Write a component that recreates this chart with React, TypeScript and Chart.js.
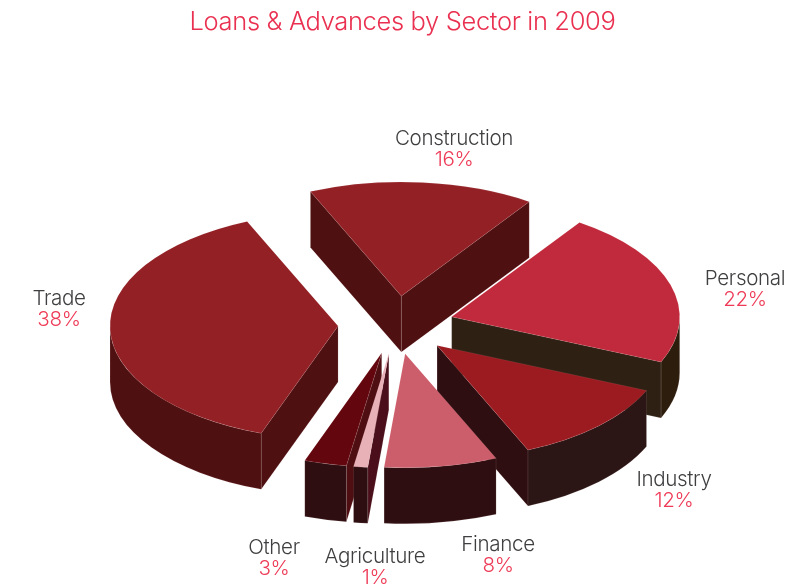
import { useEffect, useRef } from "react";
import { Chart, PieController, registerables } from "chart.js";

const sectors = ["Construction", "Personal", "Industry", "Finance", "Agriculture", "Other", "Trade"];
const shares = [16, 22, 12, 8, 1, 3, 38];
const topColors = ["#922025", "#c12a3c", "#9c1b20", "#cc5d6b", "#e8b0b7", "#64060e", "#922025"];
const startWallColors = ["#4f1011", "#2e2114", "#2e0e10", "#2e0e10", "#4a0f1a", "#4f0f12", "#4f1011"];
const endWallColors = ["#4f1011", "#2e2114", "#2e0e10", "#2e0e10", "#2e0e10", "#2e0e10", "#4f1011"];
const rimColors = ["#4f1011", "#2d1d0c", "#2c1615", "#2e0e10", "#2e0e10", "#2e0e10", "#4f1011"];

const TITLE = "Loans & Advances by Sector in 2009";
const FONT = "Inter, 'Liberation Sans', sans-serif";

// Projection of the pie onto the page
const TILT = 0.5;
const DEPTH = 56;
const EXPLODE = 58;
const RADIUS = 228;
const CENTER_X = 396;
const CENTER_Y = 325;

// Centre of each two-line label, given as the baseline of its first line
const labelAnchors: Record<string, [number, number]> = {
  Construction: [454, 145],
  Personal: [745, 285],
  Industry: [674, 486],
  Finance: [498, 551],
  Agriculture: [375, 563],
  Other: [274, 554],
  Trade: [59, 305],
};

const HAIRLINE = "rgba(255,225,225,0.18)";

class Pie3DController extends PieController {
  static id = "pie3d";

  draw() {
    const ctx = this.chart.ctx;
    const arcs: any[] = this._cachedMeta.data as any[];
    const order = arcs
      .map((arc, i) => ({ arc, i, mid: (arc.startAngle + arc.endAngle) / 2 }))
      .sort((a, b) => Math.sin(a.mid) - Math.sin(b.mid));

    for (const { arc, i, mid } of order) {
      const cx = CENTER_X + Math.cos(mid) * EXPLODE;
      const cy = CENTER_Y + Math.sin(mid) * EXPLODE * TILT;
      drawWalls(ctx, arc, i, cx, cy);

      ctx.save();
      ctx.translate(cx, cy);
      ctx.scale(1, TILT);
      ctx.translate(-arc.x, -arc.y);
      arc.draw(ctx);
      ctx.restore();
    }
  }
}

function fillWall(ctx: CanvasRenderingContext2D, color: string) {
  ctx.fillStyle = color;
  ctx.strokeStyle = HAIRLINE;
  ctx.lineWidth = 0.6;
  ctx.fill();
  ctx.stroke();
}

function drawFlatWall(ctx: CanvasRenderingContext2D, cx: number, cy: number, r: number, angle: number, color: string) {
  const x = cx + Math.cos(angle) * r;
  const y = cy + Math.sin(angle) * r * TILT;
  ctx.beginPath();
  ctx.moveTo(cx, cy);
  ctx.lineTo(x, y);
  ctx.lineTo(x, y + DEPTH);
  ctx.lineTo(cx, cy + DEPTH);
  ctx.closePath();
  fillWall(ctx, color);
}

function drawWalls(ctx: CanvasRenderingContext2D, arc: any, i: number, cx: number, cy: number) {
  const r = arc.outerRadius;
  const { startAngle: start, endAngle: end } = arc;

  // A radial wall shows only when its outward face turns towards the viewer
  if (Math.cos(start) < 0) drawFlatWall(ctx, cx, cy, r, start, startWallColors[i]);
  if (Math.cos(end) > 0) drawFlatWall(ctx, cx, cy, r, end, endWallColors[i]);

  // The rim shows only along the front half of the ellipse
  for (let k = -1; k <= 1; k++) {
    const a = Math.max(start, k * 2 * Math.PI);
    const b = Math.min(end, k * 2 * Math.PI + Math.PI);
    if (b <= a) continue;
    ctx.beginPath();
    ctx.ellipse(cx, cy, r, r * TILT, 0, a, b);
    ctx.ellipse(cx, cy + DEPTH, r, r * TILT, 0, b, a, true);
    ctx.closePath();
    fillWall(ctx, rimColors[i]);
  }
}

const tightText = {
  id: "tightText",
  beforeDraw(chart: Chart) {
    (chart.ctx as any).letterSpacing = "-0.35px";
  },
};

const sectorLabels = {
  id: "sectorLabels",
  afterDraw(chart: Chart) {
    const { ctx } = chart;
    ctx.save();
    ctx.textAlign = "center";
    ctx.textBaseline = "alphabetic";
    sectors.forEach((name, i) => {
      const [x, y] = labelAnchors[name];
      ctx.font = `300 20.6px ${FONT}`;
      ctx.fillStyle = "#3f3f41";
      ctx.fillText(name, x, y);
      ctx.fillStyle = "#ee3a56";
      ctx.fillText(`${shares[i]}%`, x, y + 21);
    });
    ctx.restore();
  },
};

Chart.register(...registerables, Pie3DController);

export default function App() {
  const ref = useRef<HTMLCanvasElement>(null);

  useEffect(() => {
    const chart = new Chart(ref.current!, {
      type: "pie3d" as any,
      data: {
        labels: sectors,
        datasets: [
          {
            data: shares,
            backgroundColor: topColors,
            borderColor: HAIRLINE,
            borderWidth: 0.6,
            clip: false,
          } as any,
        ],
      },
      options: {
        animation: false,
        responsive: false,
        rotation: -23.5,
        radius: RADIUS,
        layout: { padding: { left: 7 } },
        plugins: {
          legend: { display: false },
          tooltip: { enabled: false },
          title: {
            display: true,
            text: TITLE,
            color: "#ea3050",
            font: { family: FONT, size: 25.5, weight: 300 },
            padding: { top: 7, bottom: 10 },
          },
        },
      } as any,
      plugins: [tightText, sectorLabels],
    });
    return () => chart.destroy();
  }, []);

  return (
    <div style={{ position: "fixed", left: 0, top: 0, width: 798, height: 586, background: "#fff" }}>
      <canvas ref={ref} width={798} height={586} style={{ display: "block" }} />
    </div>
  );
}
